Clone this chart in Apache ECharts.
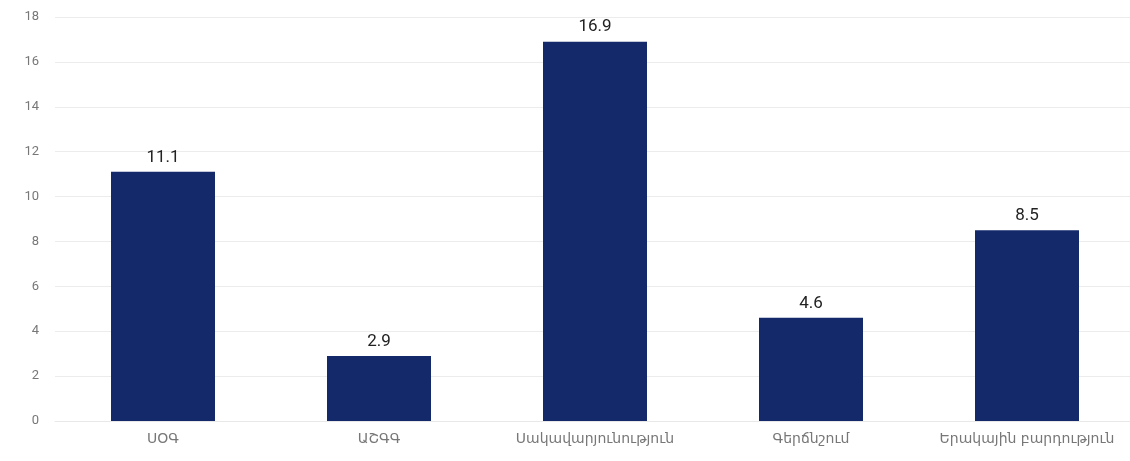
<!DOCTYPE html>
<html><head><meta charset="utf-8">
<script src="https://cdn.jsdelivr.net/npm/echarts@6/dist/echarts.min.js"></script>
<style>html,body{margin:0;padding:0;background:#fff;overflow:hidden}#c{width:1140px;height:461px}</style>
</head><body><div id="c"></div>
<script>
const categories = ["ՍՕԳ", "ԱՇԳԳ", "Սակավարյունություն", "Գերճնշում", "Երակային բարդություն"];
const values = [11.1, 2.9, 16.9, 4.6, 8.5];
const yTicks = [0, 2, 4, 6, 8, 10, 12, 14, 16, 18];

const chart = echarts.init(document.getElementById('c'), null, {renderer: 'canvas'});
chart.setOption({
  animation: false,
  backgroundColor: '#ffffff',
  grid: {left: 55, top: 17, right: 5, bottom: 40, containLabel: false},
  xAxis: {
    type: 'category', data: categories,
    axisLine: {show: true, lineStyle: {color: '#e8e8e8', width: 1}},
    axisTick: {show: false},
    axisLabel: {interval: 0, color: '#777', fontSize: 14, margin: 11, fontFamily: 'DejaVu Sans, sans-serif'}
  },
  yAxis: {
    type: 'value', min: yTicks[0], max: yTicks[yTicks.length - 1], interval: 2,
    axisLine: {show: false}, axisTick: {show: false},
    axisLabel: {color: '#777', fontSize: 13, margin: 16, fontFamily: 'Roboto, sans-serif'},
    splitLine: {lineStyle: {color: '#ececec', width: 1}}
  },
  series: [{
    type: 'bar', data: values, barWidth: 104,
    itemStyle: {color: '#13296a'},
    label: {show: true, position: 'top', distance: 6, color: '#222', fontSize: 17, fontFamily: 'Roboto, sans-serif'}
  }]
});
</script></body></html>
